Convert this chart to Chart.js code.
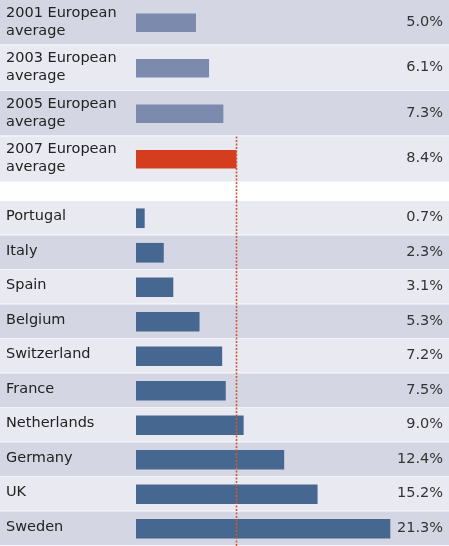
<!DOCTYPE html>
<html>
<head>
<meta charset="utf-8">
<script src="https://cdn.jsdelivr.net/npm/chart.js@4/dist/chart.umd.min.js"></script>
<style>
  body { margin: 0; background: #fff; }
  canvas { display: block; }
</style>
</head>
<body>
<canvas id="chartAverages" width="449" height="201"></canvas>
<canvas id="chartCountries" width="449" height="345"></canvas>
<script>
// European averages (top block)
const avgLabels = [
  ['2001 European', 'average'],
  ['2003 European', 'average'],
  ['2005 European', 'average'],
  ['2007 European', 'average']
];
const avgValues = [5.0, 6.1, 7.3, 8.4];

// Countries (bottom block)
const countryLabels = ['Portugal', 'Italy', 'Spain', 'Belgium', 'Switzerland', 'France', 'Netherlands', 'Germany', 'UK', 'Sweden'];
const countryValues = [0.7, 2.3, 3.1, 5.3, 7.2, 7.5, 9.0, 12.4, 15.2, 21.3];

// reference line = latest European average
const refValue = avgValues[avgValues.length - 1];
const xMax = 26.25;

const FONT = 'DejaVu Sans, Verdana, sans-serif';
const bandDark = '#d4d7e3';
const bandLight = '#e9eaf1';

// row backgrounds, full width
const bandsPlugin = {
  id: 'bands',
  beforeDraw(chart, args, opts) {
    const ctx = chart.ctx;
    const y = chart.scales.y;
    const n = chart.data.labels.length;
    const step = (chart.chartArea.bottom - chart.chartArea.top) / n;
    ctx.save();
    for (let i = 0; i < n; i++) {
      const c = y.getPixelForValue(i);
      const even = (i % 2 === 0);
      ctx.fillStyle = (even === opts.firstDark) ? bandDark : bandLight;
      ctx.fillRect(0, c - step / 2, chart.width, step - 1);
      ctx.fillStyle = '#f2f3f7';
      ctx.fillRect(0, c + step / 2 - 1, chart.width, 1);
    }
    ctx.restore();
  }
};

// value labels on the right
const valuesPlugin = {
  id: 'values',
  afterDatasetsDraw(chart) {
    const ctx = chart.ctx;
    const meta = chart.getDatasetMeta(0);
    const data = chart.data.datasets[0].data;
    ctx.save();
    ctx.font = '14.5px ' + FONT;
    ctx.fillStyle = '#333';
    ctx.textAlign = 'right';
    ctx.textBaseline = 'middle';
    meta.data.forEach((bar, i) => {
      ctx.fillText(data[i].toFixed(1) + '%', 443, bar.y - 1);
    });
    ctx.restore();
  }
};

// dotted reference line at the 2007 average
const refLinePlugin = {
  id: 'refLine',
  afterDatasetsDraw(chart, args, opts) {
    const ctx = chart.ctx;
    const x = Math.round(chart.scales.x.getPixelForValue(refValue)) + 0.5;
    let top = 0;
    if (opts.fromIndex !== undefined) {
      const n = chart.data.labels.length;
      const step = (chart.chartArea.bottom - chart.chartArea.top) / n;
      top = chart.scales.y.getPixelForValue(opts.fromIndex) - step / 2;
    }
    ctx.save();
    ctx.strokeStyle = '#c85a36';
    ctx.lineWidth = 1.6;
    ctx.setLineDash([2, 1.5]);
    ctx.beginPath();
    ctx.moveTo(x, top);
    ctx.lineTo(x, chart.height);
    ctx.stroke();
    ctx.restore();
  }
};

function makeOptions(bottomPad, firstDark, fromIndex, labelOffset) {
  return {
    indexAxis: 'y',
    responsive: false,
    animation: false,
    devicePixelRatio: 1,
    layout: { padding: { left: 6, right: 0, top: 0, bottom: bottomPad } },
    plugins: {
      legend: { display: false },
      tooltip: { enabled: false },
      bands: { firstDark: firstDark },
      refLine: { fromIndex: fromIndex }
    },
    scales: {
      x: { display: false, min: 0, max: xMax },
      y: {
        grid: { display: false },
        border: { display: false },
        afterFit(scale) {
          scale.width = 130;
          scale.paddingTop = 0;
          scale.paddingBottom = 0;
        },
        ticks: {
          crossAlign: 'far',
          autoSkip: false,
          labelOffset: labelOffset,
          color: '#222',
          font: { family: FONT, size: 14.5, lineHeight: 1.24 }
        }
      }
    }
  };
}

new Chart(document.getElementById('chartAverages'), {
  type: 'bar',
  data: {
    labels: avgLabels,
    datasets: [{
      data: avgValues,
      backgroundColor: avgValues.map((v, i) => i === avgValues.length - 1 ? '#d43d1d' : '#7b8aad'),
      barThickness: 18
    }]
  },
  options: makeOptions(19, true, avgValues.length - 1, -1),
  plugins: [bandsPlugin, valuesPlugin, refLinePlugin]
});

new Chart(document.getElementById('chartCountries'), {
  type: 'bar',
  data: {
    labels: countryLabels,
    datasets: [{
      data: countryValues,
      backgroundColor: '#46678f',
      barThickness: 19
    }]
  },
  options: makeOptions(0, false, undefined, -2),
  plugins: [bandsPlugin, valuesPlugin, refLinePlugin]
});
</script>
</body>
</html>
